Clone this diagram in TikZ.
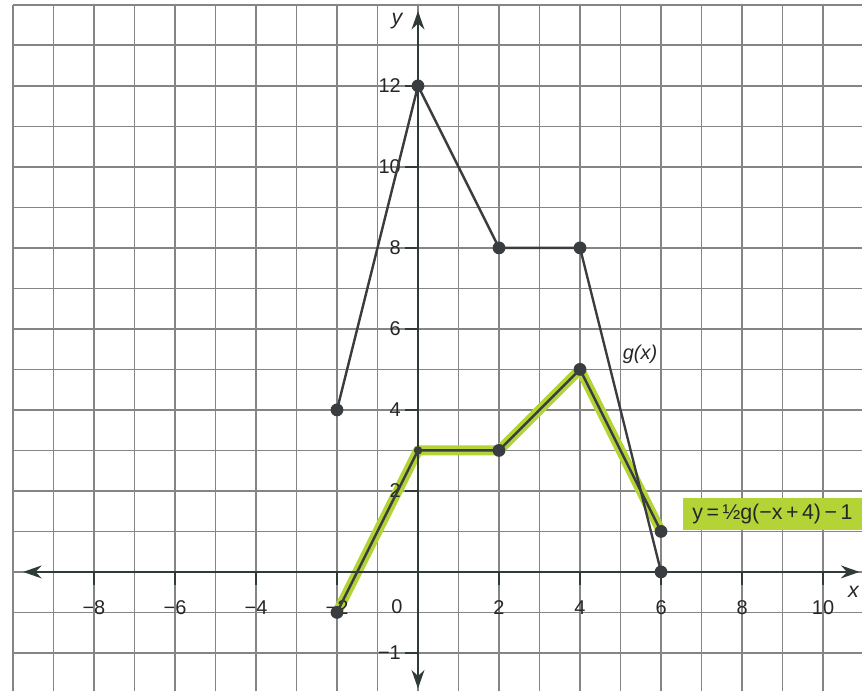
\documentclass[tikz,border=0pt]{standalone}
\usepackage{fontspec}
\setmainfont{Liberation Sans}
\usetikzlibrary{arrows.meta,positioning}

\definecolor{gridgray}{HTML}{858585}
\definecolor{axisdark}{HTML}{2F3B37}
\definecolor{curvedark}{HTML}{3A3D40}
\definecolor{hlgreen}{HTML}{B4D336}

\tikzset{
  gridline/.style={draw=gridgray,line width=1.2pt},
  axisline/.style={draw=axisdark,line width=1.8pt,{Stealth[length=13pt,width=9pt]}-{Stealth[length=13pt,width=9pt]}},
  tickmark/.style={draw=axisdark,line width=1.4pt},
  curveline/.style={draw=curvedark,line width=1.7pt,line join=round},
  hlline/.style={draw=hlgreen,line width=7pt,line join=round,line cap=round},
  ptdot/.style={circle,fill=curvedark,inner sep=0pt,minimum size=9pt},
  ticklbl/.style={font=\fontsize{14}{16}\selectfont,text=black!85},
}

\begin{document}
\begin{tikzpicture}[x=1cm,y=1cm]
    \useasboundingbox (-10.32,-2.95) rectangle (11.06,14.12);

    % Grid
    \draw[gridline] (-10,-2.95) grid (10.96,14);

    % Points of g and of the transformed graph
    \foreach \n/\x/\y in {g1/-2/4, g2/0/12, g3/2/8, g4/4/8, g5/6/0}
        \coordinate (\n) at (\x,\y);
    \foreach \n/\x/\y in {h1/-2/-1, h2/0/3, h3/2/3, h4/4/5, h5/6/1}
        \coordinate (\n) at (\x,\y);

    % Highlight of y = 1/2 g(-x+4) - 1
    \draw[hlline] (h1) -- (h2) -- (h3) -- (h4) -- (h5);

    % Axes
    \coordinate (xmin) at (-9.75,0);
    \coordinate (xmax) at (10.9,0);
    \coordinate (ymin) at (0,-2.88);
    \coordinate (ymax) at (0,13.85);
    \draw[axisline] (xmin) -- (xmax);
    \draw[axisline] (ymin) -- (ymax);

    % Ticks and labels
    \foreach \x/\t in {-8/−8, -6/−6, -4/−4, -2/−2, 2/2, 4/4, 6/6, 8/8, 10/10} {
        \draw[tickmark] (\x,0) -- (\x,-0.32);
        \node[ticklbl] (xl\x) at (\x,-0.88) {\t};
    }
    \foreach \y/\t in {-2/−1, 2/2, 4/4, 6/6, 8/8, 10/10, 12/12} {
        \draw[tickmark] (-0.32,\y) -- (0,\y);
        \node[ticklbl,anchor=east] (yl\y) at (-0.3,\y) {\t};
    }
    \node[ticklbl] (orig) at (-0.52,-0.86) {0};
    \node[ticklbl,font=\fontsize{15}{17}\selectfont\itshape] (xlab) at (10.75,-0.5) {x};
    \node[ticklbl,font=\fontsize{15}{17}\selectfont\itshape] (ylab) at (-0.52,13.6) {y};

    % Graphs
    \draw[curveline] (g1) -- (g2) -- (g3) -- (g4) -- (g5);
    \draw[curveline] (h1) -- (h2) -- (h3) -- (h4) -- (h5);
    \foreach \n in {g1,g2,g3,g4,g5,h1,h3,h4,h5}
        \node[ptdot] at (\n) {};
    \node[ptdot,minimum size=6pt] at (h2) {};

    % Curve labels
    \node[ticklbl,font=\fontsize{14}{16}\selectfont\itshape] (glab) at (5.48,5.36) {g(x)};
    \node[fill=hlgreen,minimum width=4.4cm,minimum height=0.8cm,inner sep=1pt,
          font=\fontsize{15}{17}\selectfont,text=black!85] (hlab) at (8.75,1.43)
          {y\,=\,½g(−x\,+\,4)\,−\,1};
\end{tikzpicture}
\end{document}
